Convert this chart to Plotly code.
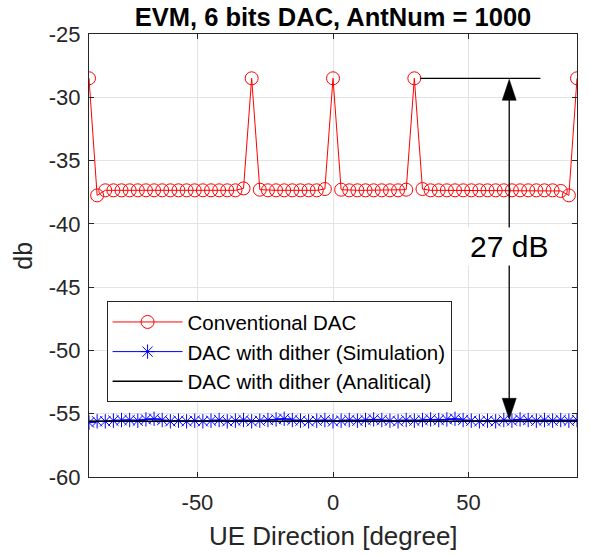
import plotly.graph_objects as go

# ---------------- data ----------------
angles = [-90, -87, -84, -81, -78, -75, -72, -69, -66, -63, -60, -57, -54, -51, -48, -45,
          -42, -39, -36, -33, -30, -27, -24, -21, -18, -15, -12, -9, -6, -3, 0,
          3, 6, 9, 12, 15, 18, 21, 24, 27, 30, 33, 36, 39, 42, 45, 48, 51, 54, 57,
          60, 63, 66, 69, 72, 75, 78, 81, 84, 87, 90]

conventional = [-28.5, -37.75, -37.35, -37.35, -37.35, -37.35, -37.35, -37.35, -37.35, -37.35,
                -37.35, -37.35, -37.35, -37.35, -37.35, -37.35, -37.35, -37.35, -37.35, -37.2,
                -28.5, -37.3, -37.35, -37.35, -37.35, -37.35, -37.35, -37.35, -37.35, -37.25,
                -28.5, -37.3, -37.35, -37.35, -37.35, -37.35, -37.35, -37.35, -37.35, -37.3,
                -28.5, -37.25, -37.35, -37.35, -37.35, -37.35, -37.35, -37.35, -37.35, -37.35,
                -37.35, -37.35, -37.35, -37.35, -37.35, -37.35, -37.35, -37.35, -37.4, -37.75,
                -28.5]

dither_sim = [-55.7, -55.6, -55.6, -55.55, -55.5, -55.5, -55.55, -55.45, -55.4, -55.5,
              -55.6, -55.55, -55.6, -55.55, -55.6, -55.55, -55.5, -55.6, -55.55, -55.5,
              -55.6, -55.55, -55.5, -55.45, -55.4, -55.5, -55.55, -55.6, -55.55, -55.5,
              -55.6, -55.55, -55.5, -55.55, -55.5, -55.45, -55.5, -55.55, -55.6, -55.5,
              -55.55, -55.5, -55.45, -55.5, -55.45, -55.4, -55.5, -55.55, -55.6, -55.55,
              -55.6, -55.5, -55.55, -55.45, -55.5, -55.55, -55.5, -55.55, -55.5, -55.55,
              -55.5]

analytical_x = [-90, 90]
analytical_y = [-55.6, -55.6]

peak_level = -28.5
gap_label = "27 dB"
arrow_x = 65

x_ticks = [-50, 0, 50]
x_tick_labels = ["-50", "0", "50"]
y_ticks = [-60, -55, -50, -45, -40, -35, -30, -25]
y_tick_labels = ["-60", "-55", "-50", "-45", "-40", "-35", "-30", "-25"]

FONT = "Liberation Sans, Arial, sans-serif"
AX = "#262626"

fig = go.Figure()
fig.add_trace(go.Scatter(
    x=angles, y=conventional, mode="lines+markers", name="Conventional DAC",
    line=dict(color="red", width=1),
    marker=dict(symbol="circle-open", size=13, color="red", line=dict(width=1, color="red")),
))
fig.add_trace(go.Scatter(
    x=angles, y=dither_sim, mode="lines+markers", name="DAC with dither (Simulation)",
    line=dict(color="blue", width=1),
    marker=dict(symbol="asterisk-open", size=12, color="blue", line=dict(width=1, color="blue")),
))
fig.add_trace(go.Scatter(
    x=analytical_x, y=analytical_y, mode="lines", name="DAC with dither (Analitical)",
    line=dict(color="black", width=1.5),
))

# horizontal reference line at the peak level
fig.add_shape(type="line", x0=32.2, x1=76.5, y0=peak_level, y1=peak_level,
              line=dict(color="black", width=1.3), layer="above")
# vertical double arrow
fig.add_shape(type="line", x0=arrow_x, x1=arrow_x, y0=peak_level - 1.0, y1=analytical_y[0] + 1.0,
              line=dict(color="black", width=1.3), layer="above")
fig.add_shape(type="path", xsizemode="pixel", ysizemode="pixel",
              xanchor=arrow_x, yanchor=peak_level,
              path="M0,-1 L-7,-22 L7,-22 Z", fillcolor="black",
              line=dict(color="black", width=0.5), layer="above")
fig.add_shape(type="path", xsizemode="pixel", ysizemode="pixel",
              xanchor=arrow_x, yanchor=analytical_y[0],
              path="M0,2 L-7,23 L7,23 Z", fillcolor="black",
              line=dict(color="black", width=0.5), layer="above")

fig.add_annotation(x=arrow_x, y=-41.8, xref="x", yref="y", text=gap_label, showarrow=False,
                   font=dict(family=FONT, size=30, color="black"), bgcolor="white",
                   borderpad=2)

# axis titles
fig.add_annotation(x=0.5, y=-0.133, xref="paper", yref="paper", text="UE Direction [degree]",
                   showarrow=False, yanchor="middle", font=dict(family=FONT, size=26, color=AX))
fig.add_annotation(x=-0.137, y=0.5, xref="paper", yref="paper", text="db", textangle=-90,
                   showarrow=False, xanchor="center", font=dict(family=FONT, size=25, color=AX))

axis_common = dict(showline=True, linecolor=AX, linewidth=1, mirror="ticks",
                   ticks="inside", ticklen=5, tickcolor=AX, tickwidth=1,
                   showgrid=True, gridcolor="#e3e3e3", gridwidth=1, zeroline=False,
                   tickfont=dict(family=FONT, size=22, color=AX))

fig.update_layout(
    width=590, height=555,
    margin=dict(l=89, r=13, t=34, b=78),
    paper_bgcolor="white", plot_bgcolor="white",
    title=dict(text="<b>EVM, 6 bits DAC, AntNum = 1000</b>", x=0.5, xref="paper",
               y=0.970, yanchor="middle", font=dict(family=FONT, size=25.5, color="black")),
    xaxis=dict(range=[-90, 90], tickvals=x_ticks, ticktext=x_tick_labels,
               ticklabelstandoff=6, **axis_common),
    yaxis=dict(range=[-60, -25], tickvals=y_ticks, ticktext=y_tick_labels,
               ticklabelstandoff=3, **axis_common),
    legend=dict(x=0.036, y=0.397, xanchor="left", yanchor="top",
                bgcolor="white", bordercolor=AX, borderwidth=1,
                font=dict(family=FONT, size=20.5, color="black"),
                itemwidth=70, tracegroupgap=0),
    showlegend=True,
)

fig.write_html("out.html", config={"displayModeBar": False},
               post_script="document.body.style.margin='0px';document.body.style.padding='0px';")
